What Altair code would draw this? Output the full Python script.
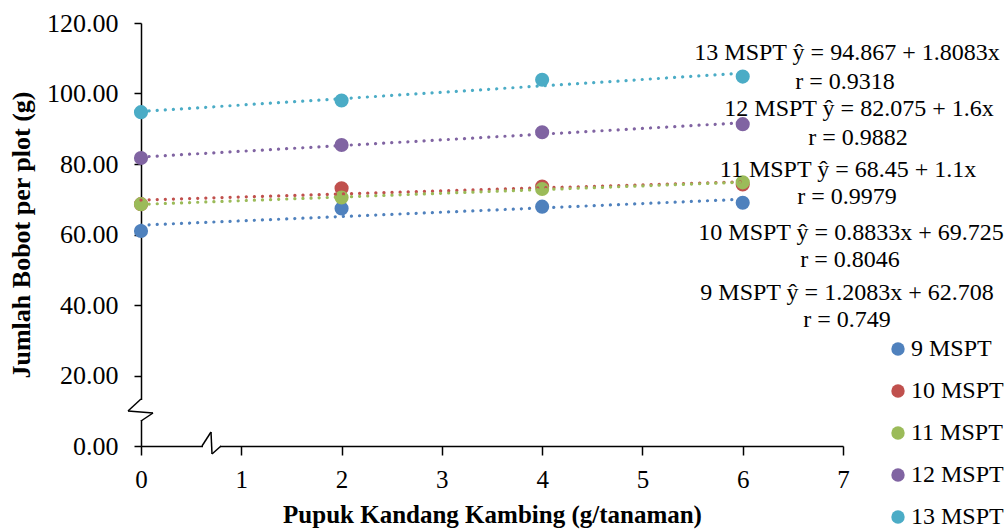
import altair as alt
import pandas as pd

# ---- data ----
x_values = [0, 2, 4, 6]
series_names = ["9 MSPT", "10 MSPT", "11 MSPT", "12 MSPT", "13 MSPT"]
y_9 = [61.0, 67.4, 67.9, 69.0]
y_10 = [68.6, 73.1, 73.6, 74.2]
y_11 = [68.6, 70.5, 72.9, 74.8]
y_12 = [81.7, 85.4, 89.0, 91.3]
y_13 = [94.7, 98.0, 103.9, 104.8]
series_colors = ["#4F81BD", "#C0504D", "#9BBB59", "#8064A2", "#4BACC6"]
y_ticks = [0, 20, 40, 60, 80, 100, 120]
x_ticks = [0, 1, 2, 3, 4, 5, 6, 7]
eq_lines = [
    "13 MSPT ŷ = 94.867 + 1.8083x", "r = 0.9318",
    "12 MSPT ŷ = 82.075 + 1.6x", "r = 0.9882",
    "11 MSPT ŷ = 68.45 + 1.1x", "r = 0.9979",
    "10 MSPT ŷ = 0.8833x + 69.725", "r = 0.8046",
    "9 MSPT  ŷ = 1.2083x + 62.708", "r = 0.749",
]
x_title = "Pupuk Kandang Kambing (g/tanaman)"
y_title = "Jumlah Bobot per plot (g)"

FONT = "Liberation Serif"

rows = []
for name, ys in zip(series_names, [y_9, y_10, y_11, y_12, y_13]):
    for xv, yv in zip(x_values, ys):
        rows.append({"series": name, "x": xv, "y": yv})
df = pd.DataFrame(rows)

x_enc = alt.X(
    "x:Q",
    scale=alt.Scale(domain=[0, 7], nice=False, zero=False),
    axis=alt.Axis(
        values=x_ticks, format="d", title=x_title, grid=False, labelFlush=False,
        labelFont=FONT, labelFontSize=25, labelColor="black", labelPadding=12,
        titleFont=FONT, titleFontSize=25, titleFontWeight="bold", titleColor="black",
        titleBaseline="alphabetic", titleY=76,
        tickSize=9, tickColor="black", tickWidth=1.5,
        domainColor="black", domainWidth=1.5,
    ),
)
y_enc = alt.Y(
    "y:Q",
    scale=alt.Scale(domain=[0, 120], nice=False),
    axis=alt.Axis(
        values=y_ticks, format=".2f", title=y_title, grid=False, labelFlush=False,
        labelFont=FONT, labelFontSize=26, labelColor="black", labelPadding=16,
        titleFont=FONT, titleFontSize=26, titleFontWeight="bold", titleColor="black",
        titlePadding=12, tickSize=7, tickColor="black", tickWidth=1.5,
        domainColor="black", domainWidth=1.5,
    ),
)

color_scale = alt.Scale(domain=series_names, range=series_colors)

base = alt.Chart(df)

points = base.mark_circle(size=200, opacity=1).encode(
    x=x_enc,
    y=y_enc,
    color=alt.Color(
        "series:N", scale=color_scale, sort=series_names,
        legend=alt.Legend(
            title=None, orient="none", legendX=745, legendY=314,
            labelFont=FONT, labelFontSize=24, labelColor="black",
            symbolType="circle", symbolSize=180, symbolStrokeWidth=0,
            rowPadding=18, labelOffset=1,
        ),
    ),
)

trend = base.transform_regression(
    "x", "y", groupby=["series"], extent=[0, 6]
).mark_line(strokeDash=[0.1, 8], strokeCap="round", strokeWidth=3.2).encode(
    x=alt.X("x:Q"),
    y=alt.Y("y:Q"),
    color=alt.Color("series:N", scale=color_scale, legend=None),
    detail="series:N",
)

# equation annotations (pixel positions within the plot area)
eq_pos = [(706, 30), (704, 59), (718, 86), (717, 115), (707, 147),
          (706, 174), (710, 210), (709, 237), (706, 270), (706, 297)]
texts = []
for t, (px, py) in zip(eq_lines, eq_pos):
    texts.append(
        alt.Chart(pd.DataFrame({"t": [t]})).mark_text(
            font=FONT, fontSize=24, color="black", align="center", baseline="middle"
        ).encode(x=alt.value(px), y=alt.value(py), text="t:N")
    )

# axis break decorations
def seg(x1, y1, x2, y2):
    return alt.Chart(pd.DataFrame({"k": [0]})).mark_rule(
        color="black", strokeWidth=1.5
    ).encode(x=alt.value(x1), y=alt.value(y1), x2=alt.value(x2), y2=alt.value(y2))

def white(x1, y1, x2, y2):
    return alt.Chart(pd.DataFrame({"k": [0]})).mark_rect(color="white").encode(
        x=alt.value(x1), y=alt.value(y1), x2=alt.value(x2), y2=alt.value(y2)
    )

breaks = [
    white(-4, 377, 4, 397),
    seg(0, 376, -13, 388), seg(-13, 388, 12, 390), seg(12, 390, 0, 398),
    white(62, 419, 79, 427),
    seg(61, 423, 70, 409), seg(70, 409, 71, 431), seg(71, 431, 80, 423),
]

chart = alt.layer(points, trend, *texts, *breaks).resolve_scale(
    color="independent"
).resolve_legend(color="independent").properties(
    width=702, height=423,
    autosize=alt.AutoSizeParams(type="none"),
    padding={"left": 141, "top": 23, "right": 165, "bottom": 83},
    background="white",
).configure_view(stroke=None)

chart.save("out.html", embed_options={"renderer": "svg", "actions": False})
